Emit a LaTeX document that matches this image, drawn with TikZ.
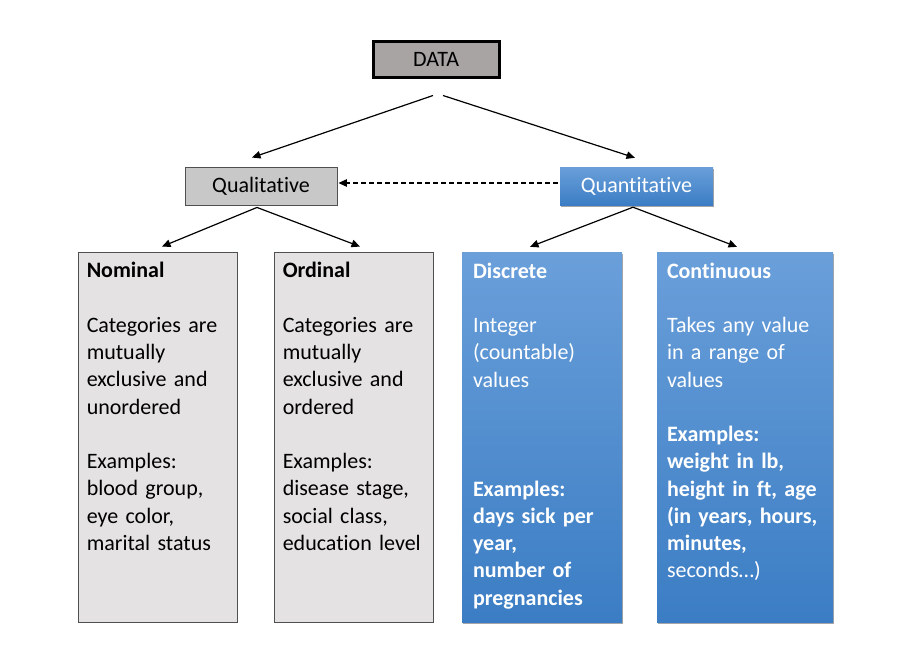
\documentclass[tikz,border=0pt]{standalone}
\usepackage{fontspec}
\setmainfont{Carlito}[Ligatures=NoCommon]
\usetikzlibrary{arrows.meta,shadows,calc}
\definecolor{datagray}{HTML}{A8A4A4}
\definecolor{qualgray}{HTML}{C9C8C8}
\definecolor{boxgray}{HTML}{E4E2E2}
\definecolor{edgegray}{HTML}{505050}
\definecolor{bluetop}{HTML}{6A9FDA}
\definecolor{bluebot}{HTML}{3B7DC4}
\begin{document}
\begin{tikzpicture}[x=1pt,y=-1pt,
  txt/.style={font=\fontsize{22}{27.25}\selectfont},
  graybox/.style={draw=edgegray,line width=0.9pt,fill=boxgray},
  bluebox/.style={top color=bluetop,bottom color=bluebot,draw=none,
    drop shadow={shadow xshift=1pt,shadow yshift=-2pt,opacity=0.35,fill=black}},
  body/.style={txt,anchor=north west,align=left,text width=175pt,inner sep=0pt},
  arr/.style={line width=1.2pt,-{Triangle[length=8.5pt,width=7.5pt]}},
]
\useasboundingbox (0,0) rectangle (899,648);
% top
\node[txt,draw=black,line width=3pt,fill=datagray,minimum width=126pt,minimum height=36pt,inner sep=0pt] (data) at (436,59) {DATA};
\node[txt,draw=edgegray,line width=0.9pt,fill=qualgray,minimum width=152pt,minimum height=38pt,inner sep=0pt] (qual) at (261,186) {Qualitative};
\node[txt,bluebox,text=white,minimum width=153pt,minimum height=38pt,inner sep=0pt] (quant) at (636.5,186) {Quantitative};
% tall boxes
\node[graybox,minimum width=159pt,minimum height=370pt,inner sep=0pt] (nom) at (157.5,437) {};
\node[graybox,minimum width=159pt,minimum height=370pt,inner sep=0pt] (ord) at (353.5,437) {};
\node[bluebox,minimum width=160pt,minimum height=370pt,inner sep=0pt] (disc) at (542,437) {};
\node[bluebox,minimum width=176pt,minimum height=370pt,inner sep=0pt] (cont) at (745,437) {};
% texts
\node[body] (nomtxt) at ([shift={(9,6)}]nom.north west) {\rule{0pt}{20pt}\textbf{Nominal}\\ \mbox{}\\
Categories are\\ mutually\\ exclusive and\\ unordered\\ \mbox{}\\
Examples:\\ blood group,\\ eye color,\\ marital status};
\node[body] (ordtxt) at ([shift={(9,6)}]ord.north west) {\rule{0pt}{20pt}\textbf{Ordinal}\\ \mbox{}\\
Categories are\\ mutually\\ exclusive and\\ ordered\\ \mbox{}\\
Examples:\\ disease stage,\\ social class,\\ education level};
\node[body,text=white] (disctxt) at ([shift={(11,6)}]disc.north west) {\rule{0pt}{20pt}\textbf{Discrete}\\ \mbox{}\\
Integer\\ (countable)\\ values\\ \mbox{}\\ \mbox{}\\ \mbox{}\\
\textbf{Examples:}\\ \textbf{days sick per}\\ \textbf{year,}\\ \textbf{number of}\\ \textbf{pregnancies}};
\node[body,text=white] (conttxt) at ([shift={(10,6)}]cont.north west) {\rule{0pt}{20pt}\textbf{Continuous}\\ \mbox{}\\
Takes any value\\ in a range of\\ values\\ \mbox{}\\
\textbf{Examples:}\\ \textbf{weight in lb,}\\ \textbf{height in ft, age}\\ \textbf{(in years, hours,}\\ \textbf{minutes,}\\ seconds…)};
% connectors
\draw[arr] ([shift={(-3,17)}]data.south) -- ([shift={(-9,-9)}]qual.north);
\draw[arr] ([shift={(7,17)}]data.south) -- ([shift={(-1.5,-9)}]quant.north);
\draw[arr,line width=1.2pt,dash pattern=on 5pt off 3pt] ([shift={(-2,-3)}]quant.west) -- ([shift={(1,-3)}]qual.east);
\coordinate (qa) at ([shift={(-4,2)}]qual.south);
\draw[arr] (qa) -- ([shift={(4.5,-5)}]nom.north);
\draw[arr] (qa) -- ([shift={(6.5,-5)}]ord.north);
\coordinate (na) at ([shift={(-3.5,2)}]quant.south);
\draw[arr] (na) -- ([shift={(-12,-5)}]disc.north);
\draw[arr] (na) -- ([shift={(-8,-5)}]cont.north);
\end{tikzpicture}
\end{document}
